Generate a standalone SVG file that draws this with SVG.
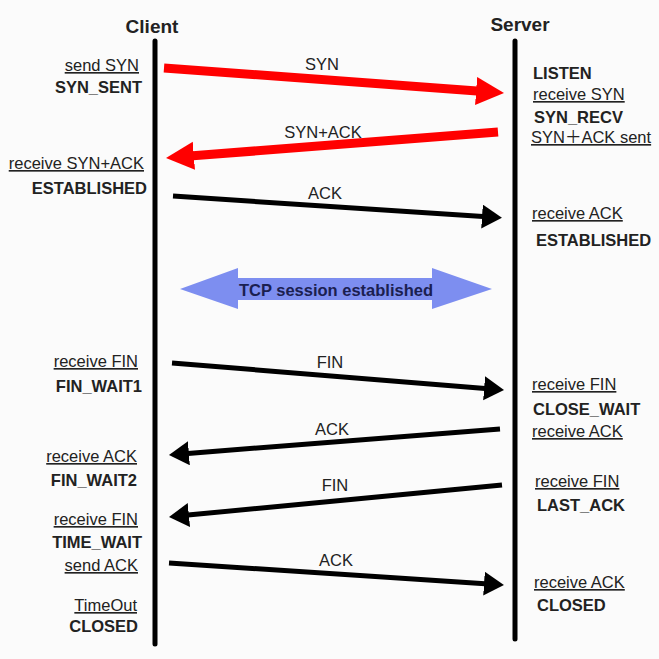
<svg xmlns="http://www.w3.org/2000/svg" width="659" height="659" viewBox="0 0 659 659">
<style>
text{font-family:"Liberation Sans",Arial,"Noto Sans CJK SC",sans-serif;font-size:16.5px;fill:#222}
.t{font-weight:bold;font-size:19px;text-anchor:middle}
.b{font-weight:bold}
.u{text-decoration:underline}
.r{text-anchor:end}
.m{text-anchor:middle}
.life{stroke:#000;stroke-width:5;stroke-linecap:round}
.red{stroke:#ff0000;stroke-width:9;fill:none}
.blk{stroke:#000;stroke-width:5;fill:none}
</style>
<defs>
<marker id="rh" markerUnits="userSpaceOnUse" markerWidth="30" markerHeight="30" refX="1" refY="14" orient="auto"><path d="M0,0 L28,14 L0,28 Z" fill="#ff0000"/></marker>
<marker id="bh" markerUnits="userSpaceOnUse" markerWidth="22" markerHeight="26" refX="1" refY="12" orient="auto"><path d="M0,0 L20,12 L0,24 Z" fill="#000"/></marker>
</defs>
<rect width="659" height="659" fill="#fbfbfb"/>
<g id="client">
<text class="t" x="152" y="33">Client</text>
<line class="life" x1="155" y1="41" x2="155" y2="644"/>
</g>
<g id="server">
<text class="t" x="520" y="31">Server</text>
<line class="life" x1="515" y1="41" x2="515" y2="639"/>
</g>
<g id="client-states">
<text class="u r" x="139" y="71">send SYN</text>
<text class="b r" x="142" y="93">SYN_SENT</text>
<text class="u r" x="144" y="169">receive SYN+ACK</text>
<text class="b r" x="147" y="194">ESTABLISHED</text>
<text class="u r" x="138" y="367">receive FIN</text>
<text class="b r" x="142" y="392">FIN_WAIT1</text>
<text class="u r" x="137" y="462">receive ACK</text>
<text class="b r" x="137" y="486">FIN_WAIT2</text>
<text class="u r" x="138" y="525">receive FIN</text>
<text class="b r" x="142" y="548">TIME_WAIT</text>
<text class="u r" x="138" y="571">send ACK</text>
<text class="u r" x="137" y="611">TimeOut</text>
<text class="b r" x="138" y="632">CLOSED</text>
</g>
<g id="server-states">
<text class="b" x="533" y="79">LISTEN</text>
<text class="u" x="533" y="100">receive SYN</text>
<text class="b" x="534" y="123">SYN_RECV</text>
<text class="u" x="531" y="143">SYN＋ACK sent</text>
<text class="u" x="532" y="219">receive ACK</text>
<text class="b" x="536" y="246">ESTABLISHED</text>
<text class="u" x="532" y="390">receive FIN</text>
<text class="b" x="533" y="415">CLOSE_WAIT</text>
<text class="u" x="532" y="437">receive ACK</text>
<text class="u" x="535" y="487">receive FIN</text>
<text class="b" x="537" y="511">LAST_ACK</text>
<text class="u" x="534" y="588">receive ACK</text>
<text class="b" x="537" y="611">CLOSED</text>
</g>
<g id="connectors">
<line class="red" x1="164" y1="68" x2="477.1" y2="91" marker-end="url(#rh)"/>
<text class="m" x="322" y="70">SYN</text>
<line class="red" x1="498" y1="132" x2="192.9" y2="155.8" marker-end="url(#rh)"/>
<text class="m" x="323" y="138">SYN+ACK</text>
<line class="blk" x1="173" y1="196" x2="483" y2="216.6" marker-end="url(#bh)"/>
<text class="m" x="325" y="199">ACK</text>
<path d="M180,289 L238,268 L238,278 L432,278 L432,268 L492,289 L432,309 L432,300 L238,300 L238,309 Z" fill="#7d8ef0"/>
<text class="b m" x="336" y="296" style="fill:#1b2050">TCP session established</text>
<line class="blk" x1="172" y1="363" x2="485.1" y2="388.4" marker-end="url(#bh)"/>
<text class="m" x="330" y="368">FIN</text>
<line class="blk" x1="500" y1="429" x2="187.9" y2="453.4" marker-end="url(#bh)"/>
<text class="m" x="332" y="435">ACK</text>
<line class="blk" x1="502" y1="485" x2="187.9" y2="515.1" marker-end="url(#bh)"/>
<text class="m" x="335" y="491">FIN</text>
<line class="blk" x1="169" y1="563" x2="485" y2="583.7" marker-end="url(#bh)"/>
<text class="m" x="336" y="566">ACK</text>
</g>
</svg>
